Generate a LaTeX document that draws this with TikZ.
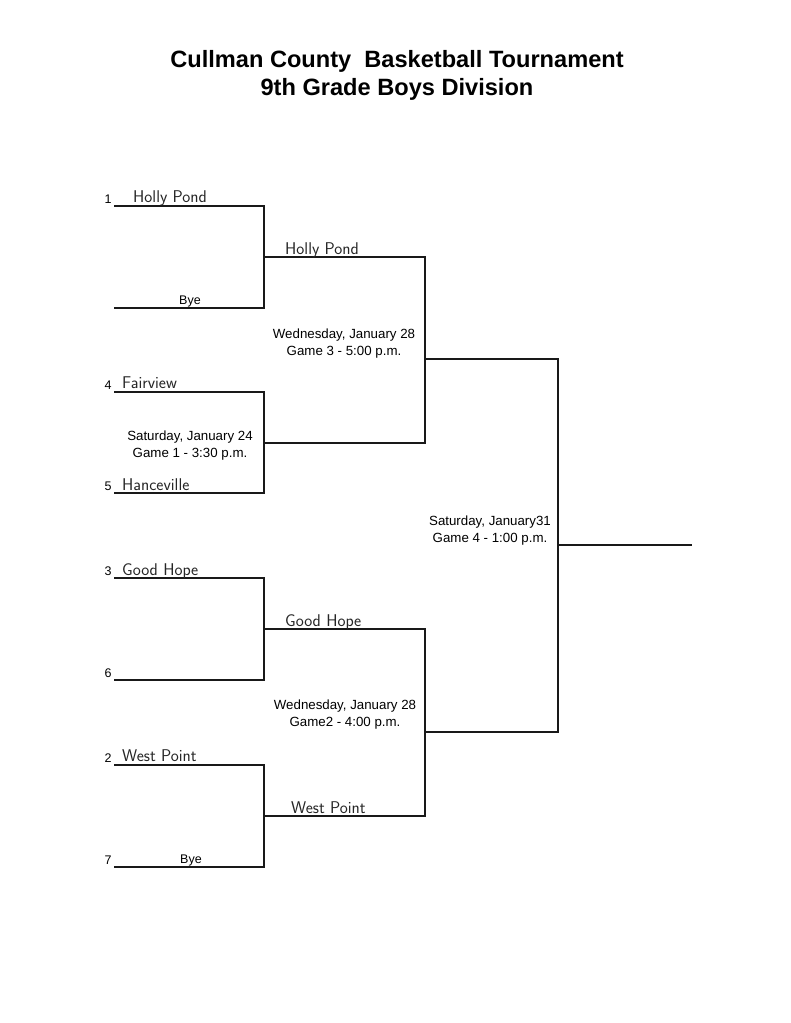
\documentclass[tikz,border=0pt]{standalone}
\usepackage{fontspec}
\setmainfont{Liberation Sans}
\begin{document}
\begin{tikzpicture}[x=1pt,y=-1pt,
  bline/.style={line width=1.3pt, black!90},
  title/.style={font=\bfseries\fontsize{23.6}{28}\selectfont, anchor=base},
  info/.style={font=\fontsize{13.3}{17}\selectfont, align=center, anchor=base},
  seed/.style={font=\fontsize{12.5}{14}\selectfont, anchor=base},
  hand/.style={font=\sffamily\addfontfeature{LetterSpace=4}\fontsize{17}{19}\selectfont, anchor=base west, inner sep=0pt, black!85}]
\useasboundingbox[fill=white] (0,0) rectangle (791,1023);
% title
\node[title] (t1) at (397,67) {Cullman County\ \ Basketball Tournament};
\node[title] (t2) at (397,95) {9th Grade Boys Division};
% round 1 coordinates
\coordinate (a1) at (114,206); \coordinate (a1e) at (264,206);
\coordinate (a2) at (114,308); \coordinate (a2e) at (264,308);
\coordinate (a4) at (114,392); \coordinate (a4e) at (264,392);
\coordinate (a5) at (114,493); \coordinate (a5e) at (264,493);
\coordinate (a3) at (114,578); \coordinate (a3e) at (264,578);
\coordinate (a6) at (114,680); \coordinate (a6e) at (264,680);
\coordinate (b2) at (114,765); \coordinate (b2e) at (264,765);
\coordinate (a7) at (114,867); \coordinate (a7e) at (264,867);
% round 2
\coordinate (r1) at (264,257); \coordinate (r1e) at (425,257);
\coordinate (r2) at (264,443); \coordinate (r2e) at (425,443);
\coordinate (r3) at (264,629); \coordinate (r3e) at (425,629);
\coordinate (r4) at (264,816); \coordinate (r4e) at (425,816);
% round 3
\coordinate (s1) at (425,359); \coordinate (s1e) at (558,359);
\coordinate (s2) at (425,732); \coordinate (s2e) at (558,732);
% final
\coordinate (f) at (558,545); \coordinate (fe) at (692,545);
% bracket lines
\draw[bline] (a1) -- (a1e) -- (a2e) -- (a2);
\draw[bline] (a4) -- (a4e) -- (a5e) -- (a5);
\draw[bline] (a3) -- (a3e) -- (a6e) -- (a6);
\draw[bline] (b2) -- (b2e) -- (a7e) -- (a7);
\draw[bline] (r1) -- (r1e) -- (r2e) -- (r2);
\draw[bline] (r3) -- (r3e) -- (r4e) -- (r4);
\draw[bline] (s1) -- (s1e) -- (s2e) -- (s2);
\draw[bline] (f) -- (fe);
% seeds
\node[seed] (n1) at (108,203) {1};
\node[seed] (n4) at (108,389) {4};
\node[seed] (n5) at (108,490) {5};
\node[seed] (n3) at (108,575) {3};
\node[seed] (n6) at (108,677) {6};
\node[seed] (n2) at (108,762) {2};
\node[seed] (n7) at (108,864) {7};
% byes
\node[seed] (bye1) at (190,304) {Bye};
\node[seed] (bye2) at (191,863) {Bye};
% handwritten names
\node[hand] (h1) at (133,202) {Holly Pond};
\node[hand] (h4) at (122,388) {Fairview};
\node[hand] (h5) at (122,490) {Hanceville};
\node[hand] (h3) at (122,575) {Good Hope};
\node[hand] (h2) at (122,761) {West Point};
\node[hand] (w1) at (285,254) {Holly Pond};
\node[hand] (w3) at (285,626) {Good Hope};
\node[hand] (w4) at (291,813) {West Point};
% game info
\node[info] (g1) at (190,457) {Saturday, January 24\\Game 1 - 3:30 p.m.};
\node[info] (g3) at (344,355) {Wednesday, January 28\\Game 3 - 5:00 p.m.};
\node[info] (g2) at (345,726) {Wednesday, January 28\\Game2 - 4:00 p.m.};
\node[info] (g4) at (490,542) {Saturday, January31\\Game 4 - 1:00 p.m.};
\end{tikzpicture}
\end{document}
